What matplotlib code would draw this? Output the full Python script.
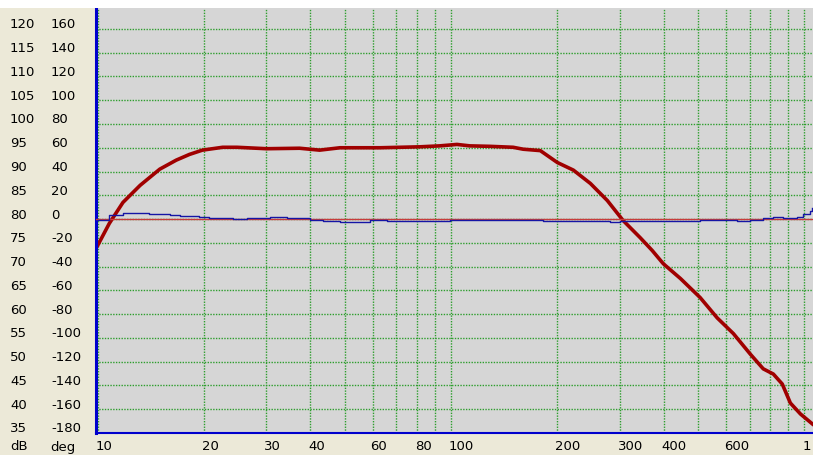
import numpy as np
import matplotlib
matplotlib.use("Agg")
import matplotlib.pyplot as plt
from matplotlib import transforms
from matplotlib.patches import Rectangle

# magnitude curve (dB)
freq_mag = [10, 10.8, 11.8, 13.2, 15.0, 16.7, 18.2, 19.8, 22.6, 24.8, 30.1, 37.3,
            42.5, 48.5, 63, 81.7, 93, 104, 113, 129, 150, 160, 179, 200, 222, 248,
            277, 307, 343, 371, 399, 446, 507, 567, 630, 703, 765, 817, 866, 913,
            975, 1054]
mag_db = [74.4, 79.1, 83.5, 87.1, 90.5, 92.4, 93.6, 94.5, 95.1, 95.1, 94.8, 94.9,
          94.5, 95.0, 95.0, 95.2, 95.4, 95.7, 95.4, 95.3, 95.1, 94.7, 94.4, 91.9,
          90.3, 87.5, 83.9, 79.7, 76.1, 73.4, 70.6, 67.5, 63.5, 59.2, 55.9, 51.6,
          48.5, 47.4, 45.3, 41.3, 39.0, 36.9]

# phase curve (deg)
freq_ph = [10, 10.8, 11.8, 13.2, 14.0, 16.0, 17.1, 19.4, 20.7, 24.1, 26.4, 30.7,
           34.3, 37.3, 39.8, 43.5, 48.5, 55.2, 58.9, 65.8, 97.3, 99.3, 118, 135,
           153, 182, 232, 282, 300, 366, 506, 643, 701, 763, 815, 869, 951, 990,
           1037, 1054]
phase_deg = [-1, 3.6, 5, 5, 4.2, 3.6, 2.3, 1.4, 0.6, 0, 0.6, 1.4,
             0.6, 0.6, -0.8, -2, -2.8, -2.8, -0.8, -2, -2, -0.6, -0.6, -0.6,
             -0.6, -1.4, -1.2, -2.8, -1.2, -1.2, -0.6, -1.4, -1.0, 0.8, 1.4, 1.0,
             1.4, 4.2, 7, 9]

db_ticks = [35, 40, 45, 50, 55, 60, 65, 70, 75, 80, 85, 90, 95, 100, 105, 110, 115, 120]
deg_ticks = [-180, -160, -140, -120, -100, -80, -60, -40, -20, 0, 20, 40, 60, 80,
             100, 120, 140, 160]
x_labels = [10, 20, 30, 40, 60, 80, 100, 200, 300, 400, 600, 1000]
x_label_text = ["10", "20", "30", "40", "60", "80", "100", "200", "300", "400", "600", "1"]
x_grid = [10, 20, 30, 40, 50, 60, 70, 80, 90, 100, 200, 300, 400, 500, 600, 700,
          800, 900, 1000]

W, H = 813, 455
fig = plt.figure(figsize=(W / 100, H / 100), dpi=100, facecolor="#ece9d8")
fig.patches.append(Rectangle((0, 447 / H), 1, 8 / H, transform=fig.transFigure,
                             facecolor="white", edgecolor="none", zorder=0))

ax = fig.add_axes([96 / W, 22 / H, 717 / W, 425 / H])
ax.set_facecolor("#d6d6d6")
ax.set_xscale("log")
ax.set_xlim(9.9, 1058)
ax.set_ylim(35, 124.4)

for s in ["top", "right"]:
    ax.spines[s].set_visible(False)
ax.spines["left"].set_color("#0000cc")
ax.spines["left"].set_linewidth(2.2)
ax.spines["bottom"].set_color("#0000cc")
ax.spines["bottom"].set_linewidth(1.5)
ax.spines["left"].set_zorder(6)
ax.spines["bottom"].set_zorder(6)

ax.set_xticks([])
ax.set_xticks([], minor=True)
ax.set_yticks([])

grid_kw = dict(color="#2e9e2e", linestyle=(0, (1, 1)), linewidth=1.0, zorder=1)
for f in x_grid:
    ax.axvline(f, **grid_kw)
for v in db_ticks[1:]:
    ax.axhline(v, **grid_kw)

ax.plot(freq_mag, mag_db, color="#a00000", linewidth=2.6, zorder=4)

ax2 = ax.twinx()
ax2.set_ylim(-180, 177.6)
ax2.set_yticks([])
ax2.axis("off")
ax2.axhline(0, color="#c83c3c", linewidth=1.0, zorder=2)
ax2.plot(freq_ph, phase_deg, color="#1515a5", linewidth=1.0, drawstyle="steps-post", zorder=3)

# left tick labels (two columns)
ytr = transforms.offset_copy(transforms.blended_transform_factory(fig.transFigure, ax.transData),
                             fig=fig, x=0, y=4, units="dots")
ytr2 = transforms.offset_copy(transforms.blended_transform_factory(fig.transFigure, ax2.transData),
                              fig=fig, x=0, y=4, units="dots")
fs = 9.5
for v in db_ticks:
    fig.text(10 / W, v, str(v), transform=ytr, ha="left", va="center", fontsize=fs)
for d in deg_ticks:
    fig.text(51 / W, d, str(d), transform=ytr2, ha="left", va="center", fontsize=fs)

xtr = transforms.offset_copy(transforms.blended_transform_factory(ax.transData, fig.transFigure),
                             fig=fig, x=-2, y=0, units="dots")
for f, t in zip(x_labels, x_label_text):
    fig.text(f, 8 / H, t, transform=xtr, ha="left", va="center", fontsize=fs)
fig.text(10 / W, 8 / H, "dB", ha="left", va="center", fontsize=fs)
fig.text(50 / W, 8 / H, "deg", ha="left", va="center", fontsize=fs)

fig.savefig("out.png", dpi=100, facecolor=fig.get_facecolor())
